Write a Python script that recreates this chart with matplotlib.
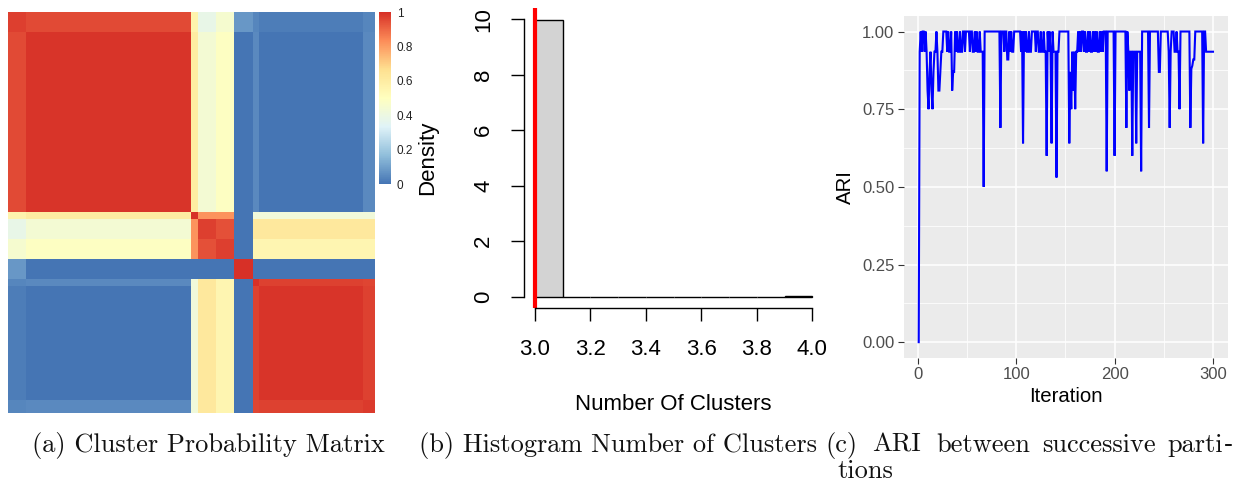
import numpy as np
import matplotlib
matplotlib.use('Agg')
import matplotlib.pyplot as plt
from matplotlib.colors import LinearSegmentedColormap

W, H = 1233, 484

# ---------------- data: panel (a) cluster probability matrix ----------------
group_sizes = [3, 27, 1, 3, 3, 3, 1, 17, 2]
block_probs = [
    [0.97, 0.95, 0.56, 0.38, 0.45, 0.08, 0.04, 0.02, 0.04],
    [0.95, 0.99, 0.60, 0.44, 0.49, 0.00, 0.05, 0.00, 0.05],
    [0.56, 0.60, 1.00, 0.82, 0.82, 0.00, 0.42, 0.42, 0.42],
    [0.38, 0.44, 0.82, 0.97, 0.94, 0.00, 0.62, 0.62, 0.62],
    [0.45, 0.49, 0.82, 0.94, 0.97, 0.00, 0.55, 0.55, 0.55],
    [0.08, 0.00, 0.00, 0.00, 0.00, 1.00, 0.00, 0.00, 0.00],
    [0.04, 0.05, 0.42, 0.62, 0.55, 0.00, 1.00, 0.965, 0.96],
    [0.02, 0.00, 0.42, 0.62, 0.55, 0.00, 0.965, 0.99, 0.965],
    [0.04, 0.05, 0.42, 0.62, 0.55, 0.00, 0.96, 0.965, 0.98],
]
cbar_ticks = [0, 0.2, 0.4, 0.6, 0.8, 1]
cbar_labels = ['0', '0.2', '0.4', '0.6', '0.8', '1']
heat_colors = ['#4575B4', '#91BFDB', '#E0F3F8', '#FFFFBF', '#FEE090', '#FC8D59', '#D73027']

# ---------------- data: panel (b) histogram ----------------
hist_breaks = [3.0, 3.1, 3.2, 3.3, 3.4, 3.5, 3.6, 3.7, 3.8, 3.9, 4.0]
hist_density = [9.97, 0, 0, 0, 0, 0, 0, 0, 0, 0.03]
true_k = 3
hist_xticks = [3.0, 3.2, 3.4, 3.6, 3.8, 4.0]
hist_yticks = [0, 2, 4, 6, 8, 10]

# ---------------- data: panel (c) ARI trace ----------------
ari = [
    0.0, 0.935, 1.0, 0.935, 1.0, 1.0, 0.935, 1.0, 0.935, 0.81,
    0.75, 0.87, 0.935, 0.81, 0.75, 0.87, 0.935, 0.935, 1.0, 0.935,
    0.81, 0.81, 0.87, 0.935, 0.935, 1.0, 1.0, 1.0, 1.0, 0.935,
    1.0, 0.935, 0.935, 1.0, 0.81, 0.87, 0.87, 1.0, 0.935, 1.0,
    0.935, 0.935, 1.0, 0.935, 0.935, 1.0, 1.0, 0.935, 1.0, 1.0,
    1.0, 1.0, 0.935, 1.0, 1.0, 0.935, 0.935, 1.0, 0.935, 1.0,
    0.935, 0.935, 1.0, 0.935, 0.935, 0.935, 0.5, 1.0, 1.0, 1.0,
    1.0, 1.0, 1.0, 1.0, 1.0, 1.0, 1.0, 1.0, 1.0, 1.0,
    1.0, 1.0, 1.0, 0.69, 1.0, 1.0, 1.0, 0.935, 1.0, 1.0,
    0.91, 0.91, 1.0, 0.935, 1.0, 0.935, 0.935, 1.0, 1.0, 1.0,
    1.0, 1.0, 1.0, 1.0, 0.935, 1.0, 0.64, 1.0, 0.935, 1.0,
    0.935, 0.935, 1.0, 0.935, 0.935, 1.0, 1.0, 1.0, 1.0, 0.935,
    1.0, 1.0, 0.935, 0.935, 1.0, 0.935, 0.935, 1.0, 0.935, 0.935,
    0.6, 1.0, 0.935, 1.0, 0.935, 0.64, 1.0, 0.935, 0.935, 0.935,
    0.53, 0.935, 0.935, 1.0, 1.0, 1.0, 1.0, 1.0, 1.0, 1.0,
    1.0, 1.0, 1.0, 0.64, 0.87, 0.75, 0.935, 0.81, 0.935, 0.75,
    0.935, 0.935, 1.0, 0.935, 1.0, 0.935, 1.0, 1.0, 0.935, 1.0,
    0.935, 0.935, 1.0, 0.935, 1.0, 0.935, 0.935, 1.0, 0.935, 1.0,
    0.935, 1.0, 0.935, 0.935, 1.0, 0.935, 1.0, 0.935, 1.0, 1.0,
    1.0, 0.55, 1.0, 1.0, 1.0, 1.0, 1.0, 1.0, 1.0, 0.6,
    1.0, 1.0, 1.0, 1.0, 1.0, 1.0, 1.0, 1.0, 1.0, 1.0,
    1.0, 0.69, 1.0, 0.935, 0.81, 0.935, 0.935, 0.6, 0.935, 0.935,
    0.935, 0.64, 0.935, 0.935, 0.935, 0.935, 0.55, 1.0, 1.0, 1.0,
    1.0, 1.0, 1.0, 1.0, 0.69, 1.0, 1.0, 1.0, 1.0, 1.0,
    1.0, 1.0, 1.0, 1.0, 0.87, 0.87, 1.0, 1.0, 1.0, 1.0,
    1.0, 1.0, 1.0, 1.0, 0.935, 0.69, 0.935, 1.0, 1.0, 1.0,
    0.935, 0.935, 1.0, 0.935, 0.935, 0.75, 1.0, 1.0, 1.0, 1.0,
    1.0, 1.0, 1.0, 1.0, 1.0, 1.0, 0.69, 0.88, 0.89, 0.91,
    0.91, 1.0, 1.0, 1.0, 1.0, 1.0, 1.0, 1.0, 1.0, 0.64,
    1.0, 1.0, 0.935, 0.935, 0.935, 0.935, 0.935, 0.935, 0.935, 0.935,
]
ari_xticks = [0, 100, 200, 300]
ari_yticks = [0.0, 0.25, 0.5, 0.75, 1.0]
ari_ylabels = ['0.00', '0.25', '0.50', '0.75', '1.00']

captions = ['(a) Cluster Probability Matrix', '(b) Histogram Number of Clusters']
caption_c_words = ['(c)', 'ARI', 'between', 'successive', 'parti']
caption_c_line2 = 'tions'


def rect(x0, y0, x1, y1):
    return [x0 / W, 1 - y1 / H, (x1 - x0) / W, (y1 - y0) / H]


def fx(x):
    return x / W


def fy(y):
    return 1 - y / H


SANS = 'Liberation Sans'
fig = plt.figure(figsize=(W / 100, H / 100), dpi=100)
fig.patch.set_facecolor('white')

# ---------------- panel (a) ----------------
sizes = np.array(group_sizes)
labels = np.repeat(np.arange(len(sizes)), sizes)
bp = np.array(block_probs)
mat = bp[labels][:, labels]

cmap = LinearSegmentedColormap.from_list('rdylbu_r', heat_colors)
ax_a = fig.add_axes(rect(8, 12, 374, 413))
im = ax_a.imshow(mat, cmap=cmap, vmin=0, vmax=1, aspect='auto', interpolation='nearest')
ax_a.set_axis_off()

cax = fig.add_axes(rect(379, 12, 391, 184))
cb = fig.colorbar(im, cax=cax)
cb.outline.set_visible(False)
cb.set_ticks(cbar_ticks)
cb.set_ticklabels(cbar_labels)
cax.tick_params(length=0, pad=4, labelsize=8.5, labelcolor='#222222')
for t in cax.get_yticklabels():
    t.set_fontfamily(SANS)

# ---------------- panel (b) ----------------
ax_b = fig.add_axes(rect(523.9, 8.2, 823.4, 307.8))
lefts = np.array(hist_breaks[:-1])
widths = np.diff(hist_breaks)
ax_b.bar(lefts, hist_density, width=widths, align='edge', color='#D3D3D3',
         edgecolor='black', linewidth=1.0)
ax_b.axvline(true_k, color='#FF0000', linewidth=3.0)
ax_b.set_xlim(2.96, 4.04)
ax_b.set_ylim(-0.4, 10.4)
for s in ['top', 'right']:
    ax_b.spines[s].set_visible(False)
ax_b.spines['left'].set_bounds(0, 10)
ax_b.spines['bottom'].set_bounds(3, 4)
ax_b.spines['left'].set_linewidth(1.0)
ax_b.spines['bottom'].set_linewidth(1.0)
ax_b.set_xticks(hist_xticks)
ax_b.set_xticklabels([f'{v:.1f}' for v in hist_xticks])
ax_b.set_yticks(hist_yticks)
ax_b.set_yticklabels([str(v) for v in hist_yticks])
ax_b.tick_params(axis='both', length=9.5, width=1.0, labelsize=16, color='black')
ax_b.tick_params(axis='x', pad=13)
ax_b.tick_params(axis='y', pad=12)
for t in ax_b.get_yticklabels():
    t.set_rotation(90)
    t.set_va('center')
    t.set_fontfamily(SANS)
for t in ax_b.get_xticklabels():
    t.set_fontfamily(SANS)
ax_b.patch.set_alpha(0)
fig.text(fx(428), fy(158), 'Density', rotation=90, ha='center', va='center',
         fontsize=16, fontfamily=SANS)
fig.text(fx(673.5), fy(405), 'Number Of Clusters', ha='center', va='center',
         fontsize=16, fontfamily=SANS)

# ---------------- panel (c) ----------------
ax_c = fig.add_axes(rect(904, 16, 1227.7, 357.7))
ax_c.set_facecolor('#EBEBEB')
iters = np.arange(1, len(ari) + 1)
n = len(ari)
ax_c.set_xlim(1 - 0.05 * (n - 1), n + 0.05 * (n - 1))
ax_c.set_ylim(-0.05, 1.05)
ax_c.set_xticks(ari_xticks)
ax_c.set_xticks([50, 150, 250], minor=True)
ax_c.set_yticks(ari_yticks)
ax_c.set_yticklabels(ari_ylabels)
ax_c.set_yticks([0.125, 0.375, 0.625, 0.875], minor=True)
ax_c.grid(True, which='major', color='white', linewidth=1.1)
ax_c.grid(True, which='minor', color='white', linewidth=0.55)
ax_c.set_axisbelow(True)
ax_c.plot(iters, ari, color='#0000FF', linewidth=1.5, solid_joinstyle='miter')
for s in ax_c.spines.values():
    s.set_visible(False)
ax_c.tick_params(axis='both', which='major', length=4, width=0.8, color='#333333',
                 labelsize=12, labelcolor='#4D4D4D', pad=3)
ax_c.tick_params(axis='both', which='minor', length=0)
for t in ax_c.get_xticklabels() + ax_c.get_yticklabels():
    t.set_fontfamily(SANS)
fig.text(fx(845), fy(187), 'ARI', rotation=90, ha='center', va='center',
         fontsize=14.7, fontfamily=SANS)
fig.text(fx(1066), fy(397), 'Iteration', ha='center', va='center',
         fontsize=14.7, fontfamily=SANS)

# ---------------- captions ----------------
CAP = dict(fontsize=19, fontfamily='cmr10', va='baseline', ha='left', color='#111111')
fig.text(fx(32), fy(452), captions[0], **CAP)
fig.text(fx(419), fy(452), captions[1], **CAP)
for word, x in zip(caption_c_words, [825, 872, 936, 1042, 1167]):
    fig.text(fx(x), fy(452), word, **CAP)
fig.text(fx(1233), fy(452), '-', fontsize=19, fontfamily='DejaVu Serif',
         va='baseline', ha='right', color='#111111')
fig.text(fx(837), fy(478), caption_c_line2, **CAP)

fig.savefig('out.png', dpi=100)
